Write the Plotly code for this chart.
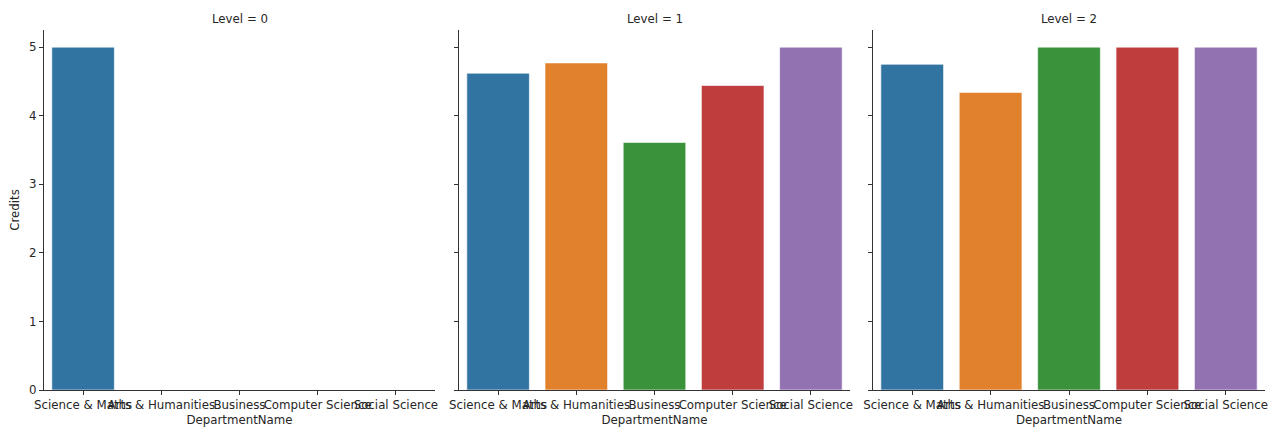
import plotly.graph_objects as go

departments = ["Science & Maths", "Arts & Humanities", "Business", "Computer Science", "Social Science"]
levels = ["Level = 0", "Level = 1", "Level = 2"]
credits_level0 = [5.0, None, None, None, None]
credits_level1 = [4.62, 4.77, 3.61, 4.44, 5.0]
credits_level2 = [4.75, 4.34, 5.0, 5.0, 5.0]
colors = ["#3274a1", "#e1812c", "#3a923a", "#c03d3e", "#9372b2"]
y_ticks = [0, 1, 2, 3, 4, 5]

OFF = 8  # browser body margin
W, H = 1282 - OFF, 431 - OFF
x_domains_px = [(44 - OFF, 435 - OFF), (459 - OFF, 850 - OFF), (873 - OFF, 1265 - OFF)]
y_top_px, y_bot_px = 30 - OFF, 390 - OFF

FONT = "DejaVu Sans"
FS = 11.8
TXT = "#262626"

fig = go.Figure()
all_vals = [credits_level0, credits_level1, credits_level2]
for i, vals in enumerate(all_vals):
    suffix = "" if i == 0 else str(i + 1)
    fig.add_trace(go.Bar(
        x=departments, y=vals, marker=dict(color=colors, line=dict(color="white", width=0.6)),
        xaxis="x" + suffix, yaxis="y" + suffix, showlegend=False,
    ))
    x0, x1 = x_domains_px[i]
    fig.layout["xaxis" + suffix] = dict(
        domain=[x0 / W, x1 / W], anchor="y" + suffix, automargin=False,
        type="category", categoryorder="array", categoryarray=departments,
        range=[-0.5, 4.5], showline=True, linecolor="#333", linewidth=1,
        ticks="outside", ticklen=4, tickcolor="#333", tickangle=0,
        showgrid=False, zeroline=False,
        tickfont=dict(family=FONT, size=FS, color=TXT),
        title=dict(text="DepartmentName", font=dict(family=FONT, size=FS, color=TXT), standoff=4),
    )
    fig.layout["yaxis" + suffix] = dict(
        domain=[1 - y_bot_px / H, 1 - y_top_px / H], anchor="x" + suffix, automargin=False,
        range=[0, 5.25], tickvals=y_ticks, showticklabels=(i == 0),
        showline=True, linecolor="#333", linewidth=1,
        ticks="outside", ticklen=4, tickcolor="#333",
        showgrid=False, zeroline=False,
        tickfont=dict(family=FONT, size=FS, color=TXT),
        title=dict(text="Credits" if i == 0 else "", font=dict(family=FONT, size=FS, color=TXT), standoff=6),
    )
    fig.add_annotation(
        text=levels[i], x=(x0 + x1) / 2 / W, y=1 - (19 - OFF) / H, xref="paper", yref="paper",
        showarrow=False, xanchor="center", yanchor="middle",
        font=dict(family=FONT, size=FS, color=TXT),
    )

fig.update_layout(
    width=W, height=H, margin=dict(l=0, r=0, t=0, b=0),
    plot_bgcolor="white", paper_bgcolor="white", bargap=0.2,
)
fig.write_html("out.html")
